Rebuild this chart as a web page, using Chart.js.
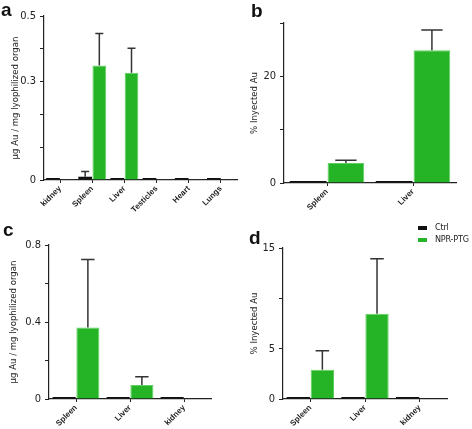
<!DOCTYPE html>
<html>
<head>
<meta charset="utf-8">
<script src="https://cdn.jsdelivr.net/npm/chart.js@4.4.1/dist/chart.umd.min.js"></script>
<style>
  body { margin: 0; background: #fff; font-family: 'Liberation Sans', Arial, sans-serif; }
  #wrap { position: relative; width: 472px; height: 429px; overflow: hidden; }
  canvas { position: absolute; }
  .letter { position: absolute; font-weight: bold; font-size: 19px; color: #111; line-height: 1; }
  .legend { position: absolute; left: 418px; top: 221px; font-size: 9px; color: #222; letter-spacing: -0.2px;
            font-family: 'Liberation Sans Narrow', 'DejaVu Sans Condensed', 'Liberation Sans', sans-serif; }
  .legend div { height: 12px; line-height: 12px; white-space: nowrap; }
  .legend span { display: inline-block; width: 9px; height: 4px; margin-right: 8px; vertical-align: middle; }
</style>
</head>
<body>
<div id="wrap">
  <canvas id="chartA" width="240" height="215" style="left:0;top:0"></canvas>
  <canvas id="chartB" width="236" height="215" style="left:236px;top:0"></canvas>
  <canvas id="chartC" width="240" height="214" style="left:0;top:215px"></canvas>
  <canvas id="chartD" width="236" height="214" style="left:236px;top:215px"></canvas>
  <div class="letter" style="left:1px;top:0">a</div>
  <div class="letter" style="left:251px;top:1px">b</div>
  <div class="letter" style="left:3px;top:220px">c</div>
  <div class="letter" style="left:249px;top:228px">d</div>
  <div class="legend">
    <div><span style="background:#111"></span>Ctrl</div>
    <div><span style="background:#25b425"></span>NPR-PTG</div>
  </div>
</div>
<script>
//DATA:
const aLabels = ['kidney', 'Spleen', 'Liver', 'Testicles', 'Heart', 'Lungs'];
const aCtrl = [0.002, 0.01, 0.002, 0.002, 0.004, 0.003];
const aCtrlErr = [0, 0.016, 0, 0, 0, 0];
const aNpr = [0.001, 0.349, 0.327, 0.002, 0.001, 0.002];
const aNprErr = [0, 0.098, 0.075, 0, 0, 0];
const aTickLabels = [0, 0.3, 0.5];

const bLabels = ['Spleen', 'Liver'];
const bCtrl = [0.15, 0.1];
const bCtrlErr = [0, 0];
const bNpr = [3.75, 24.9];
const bNprErr = [0.5, 3.8];
const bTickLabels = [0, 20];

const cLabels = ['Spleen', 'Liver', 'kidney'];
const cCtrl = [0.007, 0.002, 0.002];
const cCtrlErr = [0, 0, 0];
const cNpr = [0.371, 0.073, 0.002];
const cNprErr = [0.354, 0.042, 0];
const cTickLabels = [0, 0.4, 0.8];

const dLabels = ['Spleen', 'Liver', 'kidney'];
const dCtrl = [0.06, 0.06, 0.06];
const dCtrlErr = [0, 0, 0];
const dNpr = [2.91, 8.48, 0.06];
const dNprErr = [1.89, 5.46, 0];
const dTickLabels = [0, 5, 15];

const FONT = "'Liberation Sans', Arial, sans-serif";
const NARROW = "'Liberation Sans Narrow', 'DejaVu Sans Condensed', 'Liberation Sans', sans-serif";
const GREEN = '#25b425';

//ERROR BARS (upper only, drawn from the bar top):
const errorBars = {
  id: 'errorBars',
  afterDatasetsDraw(chart) {
    const ctx = chart.ctx;
    const yScale = chart.scales.y;
    chart.data.datasets.forEach((ds, i) => {
      const meta = chart.getDatasetMeta(i);
      meta.data.forEach((bar, j) => {
        const err = ds.errors[j];
        if (!err) return;
        const top = yScale.getPixelForValue(ds.data[j] + err);
        const half = bar.width * 0.29;
        ctx.save();
        ctx.strokeStyle = '#333';
        ctx.lineWidth = 1.5;
        ctx.beginPath();
        ctx.moveTo(bar.x, bar.y);
        ctx.lineTo(bar.x, top);
        ctx.moveTo(bar.x - half, top);
        ctx.lineTo(bar.x + half, top);
        ctx.stroke();
        ctx.restore();
      });
    });
  }
};

function makePanel(id, labels, ctrl, ctrlErr, npr, nprErr, yMax, yStep, tickLabels, yTitle, box) {
  return new Chart(document.getElementById(id), {
    type: 'bar',
    data: {
      labels: labels,
      datasets: [{
        label: 'Ctrl',
        data: ctrl,
        errors: ctrlErr,
        backgroundColor: '#111',
        borderWidth: 0,
        minBarLength: 2,
        categoryPercentage: 0.88,
        barPercentage: 0.97
      },
      {
        label: 'NPR-PTG',
        data: npr,
        errors: nprErr,
        backgroundColor: GREEN,
        borderColor: '#5fcf5f',
        borderWidth: 1,
        categoryPercentage: 0.88,
        barPercentage: 0.97
      }]
    },
    options: {
      responsive: false,
      animation: false,
      devicePixelRatio: 1,
      layout: { padding: { left: box.left, right: box.right, top: box.top, bottom: 0 } },
      plugins: { legend: { display: false }, tooltip: { enabled: false } },
      scales: {
        x: {
          afterFit: (s) => { s.height = box.xh; },
          grid: { offset: false, drawOnChartArea: false, tickLength: 3, color: '#222', lineWidth: 1 },
          border: { color: '#222', width: 1.2 },
          ticks: {
            color: '#222',
            padding: 1,
            minRotation: 45,
            maxRotation: 45,
            font: { family: FONT, size: 8, weight: 'bold' }
          }
        },
        y: {
          min: 0,
          max: yMax,
          afterFit: (s) => { s.width = box.yw; },
          grid: { drawOnChartArea: false, tickLength: 4, color: '#222', lineWidth: 1 },
          border: { color: '#222', width: 1.2 },
          ticks: {
            stepSize: yStep,
            color: '#222',
            padding: 4,
            font: { family: NARROW, size: 11 },
            callback: (v) => tickLabels.some(t => Math.abs(t - v) < 1e-9) ? String(v) : ''
          },
          title: {
            display: true,
            text: yTitle,
            color: '#222',
            padding: 0,
            font: { family: NARROW, size: 9.5 }
          }
        }
      }
    },
    plugins: [errorBars]
  });
}

makePanel('chartA', aLabels, aCtrl, aCtrlErr, aNpr, aNprErr, 0.5, 0.1, aTickLabels,
  'µg Au / mg lyophilized organ', { left: 10, right: 3, top: 16, yw: 34, xh: 35 });
makePanel('chartB', bLabels, bCtrl, bCtrlErr, bNpr, bNprErr, 30, 10, bTickLabels,
  '% Inyected Au', { left: 13, right: 16, top: 23, yw: 35, xh: 32 });
makePanel('chartC', cLabels, cCtrl, cCtrlErr, cNpr, cNprErr, 0.8, 0.2, cTickLabels,
  'µg Au / mg lyophilized organ', { left: 8, right: 29, top: 30, yw: 41, xh: 30 });
makePanel('chartD', dLabels, dCtrl, dCtrlErr, dNpr, dNprErr, 15, 5, dTickLabels,
  '% Inyected Au', { left: 13, right: 25, top: 33, yw: 34, xh: 30 });
</script>
</body>
</html>
